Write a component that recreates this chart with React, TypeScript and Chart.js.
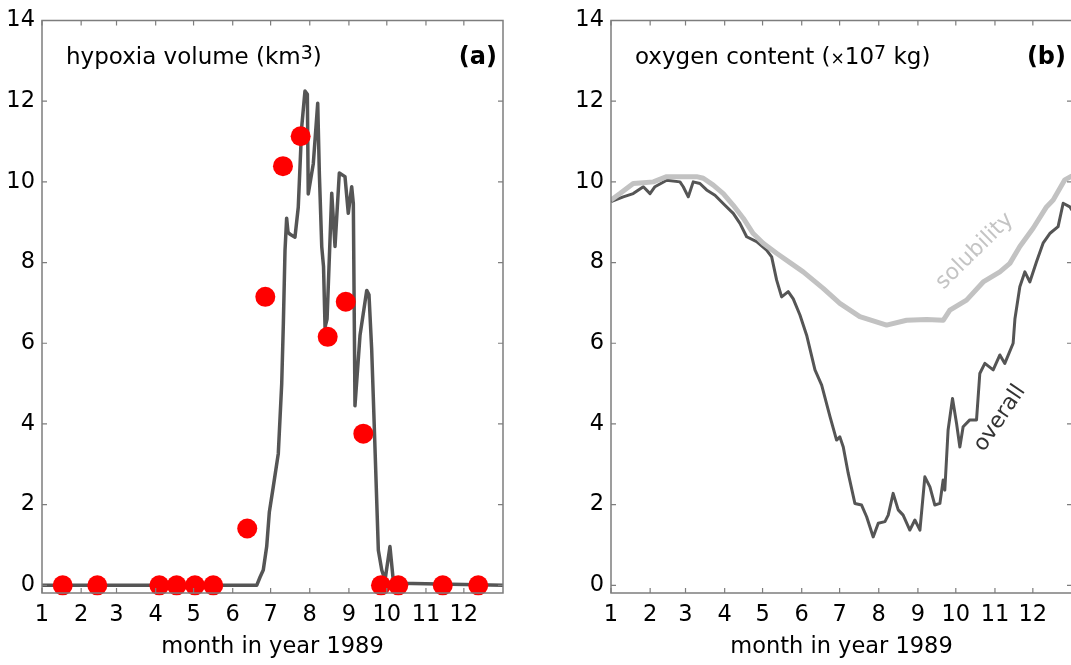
import React, { useEffect, useRef } from "react";
import { Chart, registerables } from "chart.js";

Chart.register(...registerables);

const FONT = "'DejaVu Sans', sans-serif";
const AXIS_COLOR = "#7d7d7d";
const LINE_DARK = "#555555";
const LINE_LIGHT = "#c2c2c2";
const DOT_RED = "#ff0000";

// axes
const MONTH_START_DAYS = [0, 31, 59, 90, 120, 151, 181, 212, 243, 273, 304, 334];
const MONTH_LABELS = ["1", "2", "3", "4", "5", "6", "7", "8", "9", "10", "11", "12"];
const Y_TICKS = [0, 2, 4, 6, 8, 10, 12, 14];
const X_TITLE = "month in year 1989";

// panel (a): modelled hypoxia volume (km^3) by day of year
const HYPOXIA_DAYS = [
  0, 170, 172.6, 175.2, 177.9, 180, 183.1, 187.1, 189.8, 191.1, 192.4, 193.7, 194.8, 196.4,
  200.3, 202.9, 205.6, 208.2, 210.1, 210.8, 214.8, 218.3, 219.6, 221.5, 222.9, 224.1, 225.7,
  229.4, 232, 235.4, 239.9, 242.5, 245.2, 246.5, 247.8, 251.8, 257.1, 258.9, 261, 262.3,
  263.7, 266.3, 269, 271.6, 275.5, 278.1, 283.5, 365,
];
const HYPOXIA_VOLUME = [
  0, 0, 0.2, 0.38, 0.96, 1.82, 2.44, 3.27, 5.0, 6.5, 8.3, 9.1, 8.75, 8.7,
  8.63, 9.37, 11.35, 12.25, 12.17, 9.7, 10.45, 11.95, 10.2, 8.39, 7.9, 6.4, 6.6,
  9.72, 8.4, 10.22, 10.13, 9.22, 9.88, 9.46, 4.45, 6.2, 7.31, 7.2, 5.87, 4.67,
  3.35, 0.87, 0.38, 0.13, 0.96, 0.13, 0.05, 0,
];
// panel (a): observed hypoxia volume
const SAMPLE_DAYS = [16.4, 43.8, 92.9, 106.6, 121.1, 135.6, 162.5, 176.8, 190.8, 204.8, 226.2, 240.5, 254.4, 268.4, 282.1, 317.3, 345.4];
const SAMPLE_VOLUME = [0, 0, 0, 0, 0, 0, 1.41, 7.15, 10.39, 11.13, 6.16, 7.03, 3.76, 0, 0, 0, 0];

// panel (b): oxygen content (x10^7 kg)
const SOLUBILITY_DAYS = [
  0, 7.1, 17.6, 25.6, 33.5, 44.1, 54.6, 67.8, 73.1, 81, 88.9, 96.8, 104.7, 112.6, 120.5,
  131.1, 141.7, 152.2, 168, 181.2, 197, 218.2, 234, 249.9, 263, 268.3, 281.5, 294.7, 307.9,
  315.8, 323.7, 334.2, 344.8, 350.1, 359.3, 365,
];
const SOLUBILITY_O2 = [
  9.55, 9.71, 9.96, 9.98, 10.0, 10.13, 10.13, 10.13, 10.09, 9.92, 9.71, 9.42, 9.1, 8.72, 8.48,
  8.23, 8.0, 7.77, 7.36, 6.99, 6.66, 6.45, 6.57, 6.59, 6.57, 6.82, 7.07, 7.52, 7.77,
  7.98, 8.4, 8.85, 9.38, 9.55, 10.05, 10.15,
];
const OVERALL_DAYS = [
  0, 9.7, 17.6, 25.6, 30.9, 34.8, 44.1, 54.6, 57.2, 61.2, 65.1, 70.4, 75.7, 82.3, 90.2, 96.8,
  102.1, 107.4, 115.3, 123.2, 127.2, 131.1, 135.1, 140.3, 144.3, 149.6, 154.9, 161.5, 166.8,
  173.4, 178.6, 181.2, 183.9, 187.8, 193.1, 198.4, 202.4, 207.6, 211.6, 216.9, 219.5, 223.4,
  227.4, 231.3, 236.6, 240.6, 244.6, 248.5, 252.5, 256.4, 260.4, 263, 264.3, 266.9, 270.4,
  273.6, 276.2, 278.8, 284.1, 289.4, 292, 296, 302.6, 307.9, 311.8, 318.4, 319.8, 323.7,
  327.7, 331.6, 336.9, 342.1, 347.4, 354, 358, 363.3, 365,
];
const OVERALL_O2 = [
  9.51, 9.63, 9.71, 9.88, 9.71, 9.88, 10.04, 10.0, 9.88, 9.63, 10.0, 9.96, 9.8, 9.67, 9.42, 9.22,
  8.97, 8.64, 8.52, 8.31, 8.14, 7.57, 7.15, 7.28, 7.1, 6.7, 6.2, 5.34, 4.96,
  4.18, 3.6, 3.68, 3.43, 2.78, 2.03, 1.99, 1.7, 1.2, 1.54, 1.58, 1.74, 2.28,
  1.87, 1.74, 1.37, 1.62, 1.37, 2.69, 2.44, 1.99, 2.03, 2.61, 2.36, 3.85, 4.63,
  4.01, 3.43, 3.93, 4.1, 4.1, 5.25, 5.5, 5.34, 5.71, 5.5, 6.0, 6.6, 7.4,
  7.77, 7.52, 8.02, 8.48, 8.72, 8.89, 9.47, 9.38, 9.3,
];

type Seg = { text: string; size: number; rise?: number };
type Note = { text: string; x: number; y: number; angle: number; color: string; size: number };

const pts = (xs: number[], ys: number[]) => xs.map((x, i) => ({ x, y: ys[i] }));

function makeDecor(title: Seg[], tag: string, notes: Note[]) {
  return {
    id: "panelDecor",
    afterDatasetsDraw(chart: any) {
      const { ctx, chartArea, scales } = chart;
      const { left, right, top, bottom } = chartArea;
      const TICK = 5;
      ctx.save();
      ctx.strokeStyle = AXIS_COLOR;
      ctx.lineWidth = 1.5;
      ctx.strokeRect(left, top, right - left, bottom - top);
      ctx.lineWidth = 1.2;
      ctx.beginPath();
      for (const t of scales.x.ticks) {
        const px = scales.x.getPixelForValue(t.value);
        ctx.moveTo(px, bottom);
        ctx.lineTo(px, bottom - TICK);
        ctx.moveTo(px, top);
        ctx.lineTo(px, top + TICK);
      }
      for (const t of scales.y.ticks) {
        const py = scales.y.getPixelForValue(t.value);
        ctx.moveTo(left, py);
        ctx.lineTo(left + TICK, py);
        ctx.moveTo(right, py);
        ctx.lineTo(right - TICK, py);
      }
      ctx.stroke();

      // panel title with superscript
      const base = top + 43;
      let x = left + 24;
      ctx.fillStyle = "#000";
      ctx.textAlign = "left";
      ctx.textBaseline = "alphabetic";
      for (const s of title) {
        ctx.font = `${s.size}px ${FONT}`;
        ctx.fillText(s.text, x, base - (s.rise || 0));
        x += ctx.measureText(s.text).width;
      }
      ctx.font = `bold 24px ${FONT}`;
      ctx.textAlign = "right";
      ctx.fillText(tag, right - 6, base);

      for (const n of notes) {
        const px = scales.x.getPixelForValue(n.x);
        const py = scales.y.getPixelForValue(n.y);
        ctx.save();
        ctx.translate(px, py);
        ctx.rotate((n.angle * Math.PI) / 180);
        ctx.font = `${n.size}px ${FONT}`;
        ctx.fillStyle = n.color;
        ctx.textAlign = "center";
        ctx.textBaseline = "middle";
        ctx.fillText(n.text, 0, 0);
        ctx.restore();
      }
      ctx.restore();
    },
  };
}

function makeOptions(): any {
  const tickFont = { family: FONT, size: 22.5 };
  return {
    responsive: false,
    animation: false,
    devicePixelRatio: 1,
    layout: { padding: { top: 18, right: 37, left: 0, bottom: 0 } },
    plugins: { legend: { display: false }, tooltip: { enabled: false } },
    events: [],
    scales: {
      x: {
        type: "linear",
        min: 0,
        max: 365,
        afterBuildTicks: (s: any) => {
          s.ticks = MONTH_START_DAYS.map((v) => ({ value: v }));
        },
        afterFit: (s: any) => {
          s.height = 72;
        },
        ticks: {
          callback: (v: number) => MONTH_LABELS[MONTH_START_DAYS.indexOf(v)],
          font: tickFont,
          color: "#000",
          padding: 9,
          autoSkip: false,
          maxRotation: 0,
          minRotation: 0,
        },
        grid: { display: false, drawTicks: false, tickLength: 0 },
        border: { display: false },
        title: {
          display: true,
          text: X_TITLE,
          font: tickFont,
          color: "#000",
          padding: { top: 0, bottom: 4 },
        },
      },
      y: {
        type: "linear",
        min: -0.19,
        max: 14,
        afterBuildTicks: (s: any) => {
          s.ticks = Y_TICKS.map((v) => ({ value: v }));
        },
        afterFit: (s: any) => {
          s.width = 42;
        },
        ticks: { font: tickFont, color: "#000", padding: 7 },
        grid: { display: false, drawTicks: false, tickLength: 0 },
        border: { display: false },
      },
    },
  };
}

export default function App() {
  const refA = useRef<HTMLCanvasElement | null>(null);
  const refB = useRef<HTMLCanvasElement | null>(null);

  useEffect(() => {
    const chartA = new Chart(refA.current as HTMLCanvasElement, {
      type: "scatter",
      data: {
        datasets: [
          {
            label: "observed",
            data: pts(SAMPLE_DAYS, SAMPLE_VOLUME),
            pointRadius: 10,
            pointBackgroundColor: DOT_RED,
            pointBorderWidth: 0,
            borderWidth: 0,
            showLine: false,
            clip: false,
          } as any,
          {
            label: "hypoxia volume",
            data: pts(HYPOXIA_DAYS, HYPOXIA_VOLUME),
            showLine: true,
            borderColor: LINE_DARK,
            borderWidth: 3.5,
            pointRadius: 0,
            tension: 0,
            borderJoinStyle: "round",
          },
        ],
      },
      options: makeOptions(),
      plugins: [
        makeDecor(
          [
            { text: "hypoxia volume (km", size: 23 },
            { text: "3", size: 19, rise: 5 },
            { text: ")", size: 23 },
          ],
          "(a)",
          []
        ),
      ],
    });

    const chartB = new Chart(refB.current as HTMLCanvasElement, {
      type: "scatter",
      data: {
        datasets: [
          {
            label: "solubility",
            data: pts(SOLUBILITY_DAYS, SOLUBILITY_O2),
            showLine: true,
            borderColor: LINE_LIGHT,
            borderWidth: 5,
            pointRadius: 0,
            tension: 0,
            borderJoinStyle: "round",
          },
          {
            label: "overall",
            data: pts(OVERALL_DAYS, OVERALL_O2),
            showLine: true,
            borderColor: LINE_DARK,
            borderWidth: 3,
            pointRadius: 0,
            tension: 0,
            borderJoinStyle: "round",
          },
        ],
      },
      options: makeOptions(),
      plugins: [
        makeDecor(
          [
            { text: "oxygen content (", size: 23 },
            { text: "×", size: 17 },
            { text: "10", size: 23 },
            { text: "7", size: 19, rise: 5 },
            { text: " kg)", size: 23 },
          ],
          "(b)",
          [
            { text: "solubility", x: 288, y: 8.28, angle: -44.5, color: "#c4c4c4", size: 22 },
            { text: "overall", x: 308, y: 4.14, angle: -56, color: "#333333", size: 22 },
          ]
        ),
      ],
    });

    return () => {
      chartA.destroy();
      chartB.destroy();
    };
  }, []);

  return (
    <div
      style={{
        position: "absolute",
        left: 0,
        top: 0,
        width: 1071,
        height: 665,
        overflow: "hidden",
        background: "#ffffff",
      }}
    >
      <canvas
        ref={refA}
        width={540}
        height={665}
        style={{ position: "absolute", left: 0, top: 0, width: 540, height: 665 }}
      />
      <canvas
        ref={refB}
        width={540}
        height={665}
        style={{ position: "absolute", left: 569, top: 0, width: 540, height: 665 }}
      />
    </div>
  );
}
